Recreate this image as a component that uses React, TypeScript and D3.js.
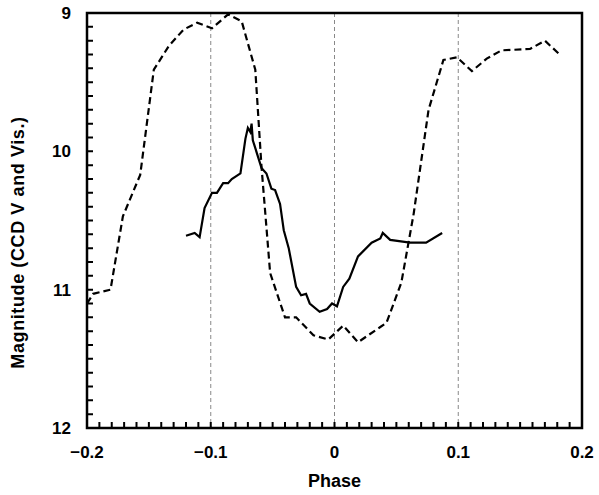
import React from 'react';
import * as d3 from 'd3';

// light curve (Vis.), dashed
const visPhase = [-0.2, -0.195, -0.181, -0.171, -0.157, -0.146, -0.134, -0.122, -0.111, -0.099, -0.086, -0.075, -0.064, -0.059, -0.052, -0.040, -0.031, -0.017, -0.005, 0.007, 0.019, 0.037, 0.042, 0.054, 0.064, 0.076, 0.088, 0.099, 0.111, 0.123, 0.135, 0.158, 0.170, 0.182];
const visMag = [11.10, 11.03, 11.00, 10.47, 10.17, 9.41, 9.24, 9.12, 9.07, 9.11, 9.01, 9.06, 9.41, 10.11, 10.88, 11.20, 11.20, 11.33, 11.36, 11.26, 11.38, 11.27, 11.24, 10.95, 10.45, 9.70, 9.34, 9.32, 9.42, 9.33, 9.27, 9.26, 9.20, 9.30];

// CCD V, solid
const ccdPhase = [-0.120, -0.113, -0.109, -0.105, -0.099, -0.095, -0.090, -0.086, -0.083, -0.076, -0.072, -0.070, -0.068, -0.067, -0.066, -0.059, -0.055, -0.051, -0.048, -0.044, -0.041, -0.037, -0.031, -0.027, -0.023, -0.020, -0.012, -0.006, -0.002, 0.002, 0.007, 0.012, 0.019, 0.030, 0.037, 0.039, 0.045, 0.061, 0.074, 0.087];
const ccdMag = [10.61, 10.59, 10.62, 10.41, 10.30, 10.30, 10.23, 10.23, 10.20, 10.16, 9.91, 9.83, 9.86, 9.80, 9.92, 10.12, 10.16, 10.27, 10.28, 10.38, 10.57, 10.70, 10.98, 11.04, 11.03, 11.10, 11.16, 11.14, 11.10, 11.12, 10.98, 10.92, 10.76, 10.66, 10.63, 10.59, 10.64, 10.66, 10.66, 10.59];

const xTicks = [-0.2, -0.1, 0, 0.1, 0.2];
const yTicks = [9, 10, 11, 12];
const gridPhases = [-0.1, 0, 0.1];

const W = 599, H = 495;
const left = 87, top = 13, right = 582, bottom = 428;
const font = '"Liberation Sans", Arial, sans-serif';

export default function App() {
  const x = d3.scaleLinear().domain([-0.2, 0.2]).range([left, right]);
  const y = d3.scaleLinear().domain([9, 12]).range([top, bottom]);
  const line = d3.line<[number, number]>().x(d => x(d[0])).y(d => y(d[1]));
  const vis = line(visPhase.map((p, i) => [p, visMag[i]] as [number, number])) || '';
  const ccd = line(ccdPhase.map((p, i) => [p, ccdMag[i]] as [number, number])) || '';
  const xMinor = x.ticks(40);
  const yMinor = y.ticks(30);
  const tickPath =
    xMinor.map(t => `M${x(t)},${bottom}V${bottom - 6}`).join('') +
    yMinor.map(t => `M${left},${y(t)}H${left + 6}`).join('');

  return (
    <svg width={W} height={H} style={{ position: 'absolute', left: 0, top: 0 }}>
      <rect width={W} height={H} fill="#fff" />
      {gridPhases.map(p => (
        <line key={p} x1={x(p)} x2={x(p)} y1={top} y2={bottom} stroke="#888" strokeWidth={1} strokeDasharray="4,3" />
      ))}
      <path d={tickPath} fill="none" stroke="#000" strokeWidth={2} />
      <path d={vis} fill="none" stroke="#000" strokeWidth={2.2} strokeDasharray="7,4" />
      <path d={ccd} fill="none" stroke="#000" strokeWidth={2.2} />
      <rect x={left} y={top} width={right - left} height={bottom - top} fill="none" stroke="#000" strokeWidth={2.5} />
      {xTicks.map(t => (
        <text key={'xt' + t} x={x(t)} y={bottom + 30} textAnchor="middle" fontFamily={font} fontWeight="bold" fontSize={17}>{d3.format('')(t)}</text>
      ))}
      {yTicks.map(t => (
        <text key={'yt' + t} x={left - 16} y={y(t) + 6} textAnchor="end" fontFamily={font} fontWeight="bold" fontSize={17}>{t}</text>
      ))}
      <text x={(left + right) / 2} y={487} textAnchor="middle" fontFamily={font} fontWeight="bold" fontSize={18}>Phase</text>
      <text transform={`translate(24,${(top + bottom) / 2 + 22}) rotate(-90)`} textAnchor="middle" fontFamily={font} fontWeight="bold" fontSize={18} letterSpacing={0.6}>Magnitude (CCD V and Vis.)</text>
    </svg>
  );
}
